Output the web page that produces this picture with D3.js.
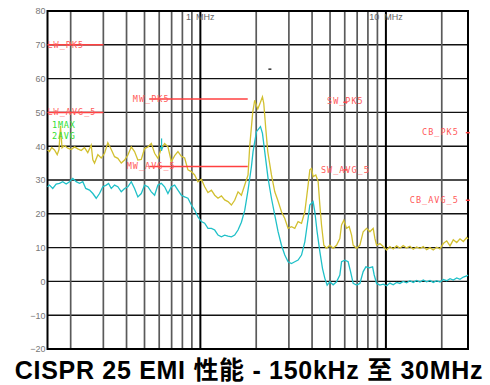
<!DOCTYPE html>
<html lang="en">
<head>
<meta charset="utf-8"/>
<title>CISPR 25 EMI</title>
<script src="https://d3js.org/d3.v7.min.js"></script>
<style>
  body { margin: 0; background: #fff; }
  svg { display: block; }
</style>
</head>
<body>
<div id="chart"></div>

<script>
// ---- data (frequency in MHz, level in dBuV) ----
const yTicks = [80, 70, 60, 50, 40, 30, 20, 10, 0, -10, -20]
const decadeFreqs = [1, 10]
const decadeLabels = ["1  MHz", "10  MHz"]
const minorFreqs = [0.2, 0.3, 0.4, 0.5, 0.6, 0.7, 0.8, 0.9,
                    2, 3, 4, 5, 6, 7, 8, 9, 20]

const limitNames = ["LW_PK5", "LW_AVG_5", "MW_PK5", "MW_AVG_5",
                    "SW_PK5", "SW_AVG_5", "CB_PK5", "CB_AVG_5"]
const limitStart = [0.15, 0.15, 0.53, 0.53, 5.9, 5.9, 26.96, 26.96]
const limitEnd   = [0.30, 0.30, 1.8, 1.8, 6.2, 6.2, 27.41, 27.41]
const limitLevel = [70, 50, 54, 34, 53, 33, 44, 24]

const legendNames = ["1MAX", "2AVG"]

// peak detector trace (yellow)
const maxTrace = [
  [0.150, 38.9], [0.1537, 38.4], [0.158, 39.6], [0.1636, 38.9], [0.1692, 37.5],
  [0.173, 39.0], [0.1763, 46.0], [0.1796, 39.5], [0.1852, 40.2], [0.193, 39.4],
  [0.2013, 39.0], [0.2098, 39.8], [0.2185, 39.2], [0.228, 38.7], [0.2375, 39.6],
  [0.2473, 38.1], [0.258, 40.3], [0.2633, 36.0], [0.2689, 35.0], [0.2802, 37.5],
  [0.2921, 36.5], [0.3045, 37.9], [0.3172, 41.0], [0.3309, 39.0], [0.3447, 36.9],
  [0.3591, 36.4], [0.3747, 35.0], [0.3905, 35.9], [0.4068, 37.4], [0.4242, 39.8],
  [0.4419, 38.4], [0.4604, 35.9], [0.4803, 36.1], [0.5004, 39.3], [0.5215, 39.8],
  [0.5441, 40.8], [0.5668, 37.9], [0.5904, 36.4], [0.616, 39.3], [0.6417, 40.8],
  [0.6686, 39.8], [0.6976, 35.4], [0.7268, 37.2], [0.757, 38.4], [0.7897, 37.0],
  [0.8228, 36.5], [0.8571, 33.0], [0.8941, 32.5], [0.9316, 31.5], [0.9705, 29.5],
  [1.0125, 30.2], [1.0548, 28.0], [1.099, 26.3], [1.147, 27.0], [1.195, 25.5],
  [1.245, 24.6], [1.298, 25.3], [1.352, 24.1], [1.409, 23.6], [1.470, 22.6],
  [1.531, 24.0], [1.596, 26.5], [1.664, 25.5], [1.734, 28.5], [1.807, 31.5],
  [1.845, 40.0], [1.915, 50.0], [1.963, 53.6], [2.006, 52.0], [2.039, 51.0],
  [2.108, 53.0], [2.161, 54.6], [2.196, 52.7], [2.251, 45.3], [2.308, 38.4],
  [2.416, 31.5], [2.518, 26.5], [2.614, 24.0], [2.736, 20.6], [2.851, 18.6],
  [2.970, 15.7], [3.098, 16.2], [3.228, 15.7], [3.363, 17.7], [3.509, 17.2],
  [3.656, 20.6], [3.808, 28.5], [3.890, 33.0], [3.972, 33.4], [4.052, 31.0],
  [4.190, 31.5], [4.313, 29.5], [4.405, 22.6], [4.498, 16.7], [4.628, 10.7],
  [4.786, 9.8], [4.986, 10.7], [5.195, 9.8], [5.420, 10.7], [5.646, 12.7],
  [5.767, 16.7], [5.934, 18.1], [6.137, 15.7], [6.339, 16.2], [6.531, 13.7],
  [6.662, 10.7], [6.950, 9.8], [7.241, 10.7], [7.544, 14.7], [7.867, 15.7],
  [8.199, 14.7], [8.541, 15.7], [8.722, 12.7], [8.910, 10.7], [9.281, 11.2],
  [9.669, 10.3], [10.09, 9.3], [10.51, 10.3], [10.95, 9.6], [11.42, 10.5],
  [11.90, 9.8], [12.40, 10.6], [12.93, 9.9], [13.48, 10.4], [14.04, 9.5],
  [14.65, 10.2], [15.26, 9.7], [15.90, 10.3], [16.58, 9.4], [17.28, 10.0],
  [18.00, 9.3], [18.78, 10.1], [19.56, 9.6], [20.38, 11.2], [21.27, 12.0],
  [22.16, 10.5], [23.08, 12.3], [24.08, 11.5], [25.08, 12.6], [26.14, 11.8],
  [27.26, 13.0], [27.70, 12.5]
]

// average detector trace (cyan)
const avgTrace = [
  [0.150, 28.0], [0.1537, 28.5], [0.1601, 27.5], [0.167, 28.8], [0.174, 29.0],
  [0.1813, 29.5], [0.1891, 28.8], [0.1971, 29.5], [0.2053, 30.5], [0.2142, 29.5],
  [0.2232, 29.0], [0.2325, 29.5], [0.2411, 27.5], [0.2527, 27.0], [0.2633, 26.0],
  [0.2746, 24.6], [0.2861, 26.0], [0.2981, 28.0], [0.311, 28.5], [0.320, 29.0],
  [0.3309, 27.5], [0.3447, 28.5], [0.3591, 28.0], [0.3747, 26.5], [0.3905, 27.5],
  [0.4068, 28.0], [0.4242, 29.5], [0.4419, 27.5], [0.4604, 25.0], [0.4803, 26.0],
  [0.5004, 28.5], [0.5215, 28.0], [0.5441, 26.5], [0.5668, 25.5], [0.5904, 28.5],
  [0.616, 29.0], [0.6417, 28.0], [0.6686, 26.0], [0.6976, 28.0], [0.7268, 28.5],
  [0.757, 27.0], [0.7897, 25.5], [0.8228, 25.0], [0.8571, 24.6], [0.8941, 22.6],
  [0.9316, 21.1], [0.9705, 19.1], [1.0125, 17.7], [1.0548, 17.2], [1.099, 15.7],
  [1.147, 15.7], [1.195, 15.2], [1.245, 13.7], [1.298, 13.2], [1.352, 13.7],
  [1.409, 13.4], [1.470, 13.2], [1.531, 13.7], [1.596, 15.2], [1.664, 17.5],
  [1.734, 21.0], [1.807, 27.0], [1.885, 34.0], [1.923, 38.4], [2.006, 44.3],
  [2.072, 45.3], [2.108, 45.8], [2.161, 43.8], [2.223, 38.4], [2.317, 30.5],
  [2.416, 24.6], [2.518, 19.6], [2.623, 14.7], [2.736, 10.7], [2.851, 7.8],
  [2.970, 5.8], [3.098, 5.3], [3.228, 5.8], [3.363, 6.3], [3.509, 7.8],
  [3.656, 11.7], [3.808, 18.6], [3.890, 22.6], [3.972, 23.1], [4.052, 23.6],
  [4.139, 20.6], [4.258, 14.7], [4.405, 8.8], [4.554, 3.8], [4.687, 0.9],
  [4.823, -1.1], [4.986, -0.1], [5.195, -1.0], [5.420, -0.1], [5.646, 1.9],
  [5.767, 5.8], [6.007, 6.3], [6.258, 5.8], [6.449, 2.9], [6.662, -0.6],
  [6.950, -1.1], [7.241, -0.6], [7.544, 2.9], [7.800, 4.3], [8.127, 4.0],
  [8.477, 4.3], [8.649, 1.9], [8.910, -0.6], [9.281, -1.1], [9.669, -0.8],
  [10.09, -1.3], [10.51, -0.5], [10.95, -1.0], [11.42, -0.3], [11.90, -0.6],
  [12.40, 0.0], [12.93, -0.4], [13.48, 0.2], [14.04, -0.3], [14.65, 0.3],
  [15.26, -0.2], [15.90, 0.4], [16.58, -0.1], [17.28, 0.3], [18.00, -0.3],
  [18.78, 0.2], [19.56, -0.2], [20.38, 0.6], [21.27, 0.2], [22.16, 0.8],
  [23.08, 0.4], [24.08, 1.0], [25.08, 0.6], [26.14, 1.3], [27.26, 1.6],
  [27.70, 1.9]
]

// analyser markers
const markerBlack = [2.37, 62.8]
const markerCyan = [0.618, 42.3, 38.6]

const title = "CISPR 25 EMI 性能 - 150kHz 至 30MHz"
// ------------------------------------------------------------------

const W = 490, H = 385
const plotL = 47.5, plotR = 468, plotT = 11, plotB = 349

const svg = d3.select("#chart").append("svg")
  .attr("width", W).attr("height", H)

const x = d3.scaleLog().domain([0.15, 27.7]).range([plotL, plotR])
const y = d3.scaleLinear().domain([-20, 80]).range([plotB, plotT])

const yellow = "#d2c030"
const cyan = "#1fc0c8"
const red = "#ff4040"
const labelFont = "'DejaVu Sans Mono', monospace"

// grid
const grid = svg.append("g")
grid.selectAll("line.h").data(yTicks).join("line")
  .attr("class", "h")
  .attr("x1", plotL).attr("x2", plotR)
  .attr("y1", d => y(d)).attr("y2", d => y(d))
  .attr("stroke", "#111").attr("stroke-width", 1.4)

grid.selectAll("line.m").data(minorFreqs).join("line")
  .attr("class", "m")
  .attr("x1", d => x(d)).attr("x2", d => x(d))
  .attr("y1", plotT).attr("y2", plotB)
  .attr("stroke", "#5a5a5a").attr("stroke-width", 1.7)

grid.selectAll("line.d").data(decadeFreqs).join("line")
  .attr("class", "d")
  .attr("x1", d => x(d)).attr("x2", d => x(d))
  .attr("y1", plotT).attr("y2", plotB)
  .attr("stroke", "#000").attr("stroke-width", 2)

svg.append("rect")
  .attr("x", plotL).attr("y", plotT)
  .attr("width", plotR - plotL).attr("height", plotB - plotT)
  .attr("fill", "none").attr("stroke", "#000").attr("stroke-width", 2)

// y axis labels
const yAxis = svg.append("g")
  .attr("transform", `translate(${plotL},0)`)
  .call(d3.axisLeft(y).tickValues(yTicks).tickSize(0).tickPadding(2))
yAxis.select(".domain").remove()
yAxis.selectAll("text")
  .attr("fill", "#777")
  .style("font-family", "'Liberation Sans', Arial, sans-serif")
  .style("font-size", "9px")

// decade labels
svg.selectAll("text.dec").data(decadeFreqs).join("text")
  .attr("class", "dec")
  .attr("x", d => x(d)).attr("y", 20)
  .attr("text-anchor", "middle")
  .style("white-space", "pre")
  .attr("fill", "#666")
  .style("font-family", "'Liberation Sans', Arial, sans-serif")
  .style("font-size", "9px")
  .text((d, i) => decadeLabels[i])

// traces
const line = d3.line().x(d => x(d[0])).y(d => y(d[1]))
svg.append("path").datum(avgTrace)
  .attr("d", line).attr("fill", "none")
  .attr("stroke", cyan).attr("stroke-width", 1.3)
svg.append("path").datum(maxTrace)
  .attr("d", line).attr("fill", "none")
  .attr("stroke", yellow).attr("stroke-width", 1.3)

// limit lines and their labels
const lim = svg.append("g")
lim.selectAll("line").data(limitNames).join("line")
  .attr("x1", (d, i) => x(limitStart[i]))
  .attr("x2", (d, i) => Math.max(x(limitEnd[i]), x(limitStart[i]) + 4))
  .attr("y1", (d, i) => y(limitLevel[i]))
  .attr("y2", (d, i) => y(limitLevel[i]))
  .attr("stroke", red).attr("stroke-width", 1.5)

lim.selectAll("text").data(limitNames).join("text")
  .attr("x", (d, i) => {
    if (d.startsWith("LW")) return x(limitStart[i])
    if (d.startsWith("MW")) return x(limitStart[i]) + 2
    if (d.startsWith("SW")) return (x(limitStart[i]) + x(limitEnd[i])) / 2
    return x(limitStart[i]) - 7
  })
  .attr("y", (d, i) => y(limitLevel[i]) + (d === "SW_PK5" ? 1.5 : 2.8))
  .attr("text-anchor", d => d.startsWith("LW") ? "start"
                        : d.startsWith("CB") ? "end" : "middle")
  .attr("fill", "#ff5a5a")
  .style("font-family", labelFont)
  .style("font-size", "8.5px")
  .style("letter-spacing", "1px")
  .text(d => d)

// legend
svg.selectAll("text.leg").data(legendNames).join("text")
  .attr("class", "leg")
  .attr("x", 52).attr("y", (d, i) => 128 + i * 11)
  .attr("fill", "#30e030")
  .style("font-family", labelFont)
  .style("font-size", "8.5px")
  .style("letter-spacing", "0.8px")
  .text(d => d)

// markers
svg.append("line")
  .attr("x1", x(markerBlack[0]) - 1.5).attr("x2", x(markerBlack[0]) + 1.5)
  .attr("y1", y(markerBlack[1])).attr("y2", y(markerBlack[1]))
  .attr("stroke", "#000").attr("stroke-width", 1.2)
const mx = x(markerCyan[0])
svg.append("line")
  .attr("x1", mx).attr("x2", mx)
  .attr("y1", y(markerCyan[1])).attr("y2", y(markerCyan[2]))
  .attr("stroke", cyan).attr("stroke-width", 1.2)
svg.append("path")
  .attr("d", `M${mx - 2},${y(markerCyan[2]) - 4} L${mx + 2},${y(markerCyan[2]) - 4} L${mx},${y(markerCyan[2])} Z`)
  .attr("fill", cyan)

// title
svg.append("text")
  .attr("x", 249).attr("y", 379)
  .attr("text-anchor", "middle")
  .attr("fill", "#000")
  .style("font-family", "'Liberation Sans', Arial, 'Noto Sans CJK SC', sans-serif")
  .style("font-weight", "bold")
  .style("font-size", "25px")
  .style("letter-spacing", "0.7px")
  .text(title)
</script>
</body>
</html>
